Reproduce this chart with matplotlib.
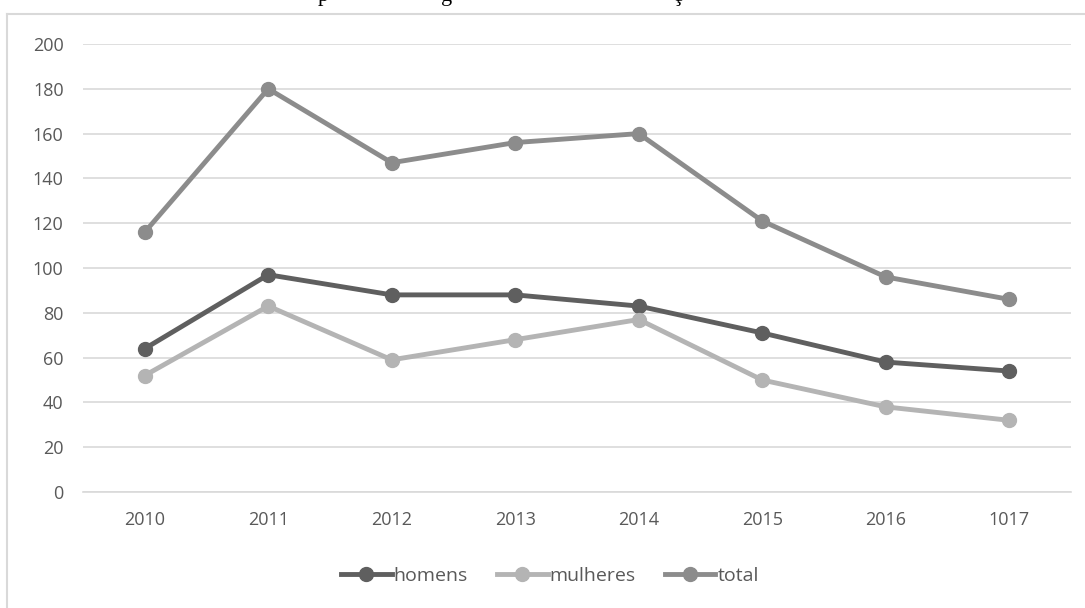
import matplotlib
matplotlib.use("Agg")
import matplotlib.pyplot as plt
from matplotlib.lines import Line2D

years = ["2010", "2011", "2012", "2013", "2014", "2015", "2016", "1017"]
homens = [64, 97, 88, 88, 83, 71, 58, 54]
mulheres = [52, 83, 59, 68, 77, 50, 38, 32]
total = [116, 180, 147, 156, 160, 121, 96, 86]

W, H = 1085, 608
fig = plt.figure(figsize=(W / 100, H / 100), dpi=100)
ax = fig.add_axes([83 / W, 1 - 492 / H, (1071 - 83) / W, (492 - 44) / H])

x = list(range(len(years)))
series = [("homens", homens, "#5f5f5f"), ("mulheres", mulheres, "#b4b4b4"), ("total", total, "#8c8c8c")]
for name, vals, col in series:
    ax.plot(x, vals, color=col, lw=3.5, marker="o", ms=10, label=name, solid_capstyle="round", zorder=3)

ax.set_xlim(-0.5, len(years) - 0.5)
ax.set_ylim(0, 200)
ax.set_yticks(range(0, 201, 20))
ax.set_xticks(x)
ax.set_xticklabels(years)
ax.yaxis.grid(True, color="#d9d9d9", lw=1.2)
ax.set_axisbelow(True)
for s in ["top", "right", "left"]:
    ax.spines[s].set_visible(False)
ax.spines["bottom"].set_color("#d9d9d9")
ax.spines["bottom"].set_linewidth(1.2)
ax.tick_params(axis="both", length=0, labelsize=13, labelcolor="#595959")
ax.tick_params(axis="y", pad=14)
ax.tick_params(axis="x", pad=14)
for lab in ax.get_xticklabels() + ax.get_yticklabels():
    lab.set_family("Open Sans")

handles = [Line2D([0], [0], color=c, lw=3.5, marker="o", ms=10) for _, _, c in series]
leg = fig.legend(handles, [s[0] for s in series], loc="center", bbox_to_anchor=(550 / W, 1 - 576 / H),
                 ncol=3, frameon=False, handlelength=2.6, columnspacing=1.5, handletextpad=0.1,
                 prop={"family": "Open Sans", "size": 14})
for t in leg.get_texts():
    t.set_color("#595959")

# chart border
fig.add_artist(Line2D([7 / W, 7 / W], [0, 1 - 14 / H], color="#d9d9d9", lw=1.5, transform=fig.transFigure))
fig.add_artist(Line2D([7 / W, 1], [1 - 14 / H, 1 - 14 / H], color="#d9d9d9", lw=1.5, transform=fig.transFigure))

# clipped title descenders (title text lies above the image edge in the reference)
for ch, px in [("p", 323), ("g", 447), ("ç", 677)]:
    fig.text(px / W, 1 - 1 / H, ch, family="Liberation Serif", size=16, ha="center", va="baseline", color="#000000")

fig.savefig("out.png", dpi=100)
